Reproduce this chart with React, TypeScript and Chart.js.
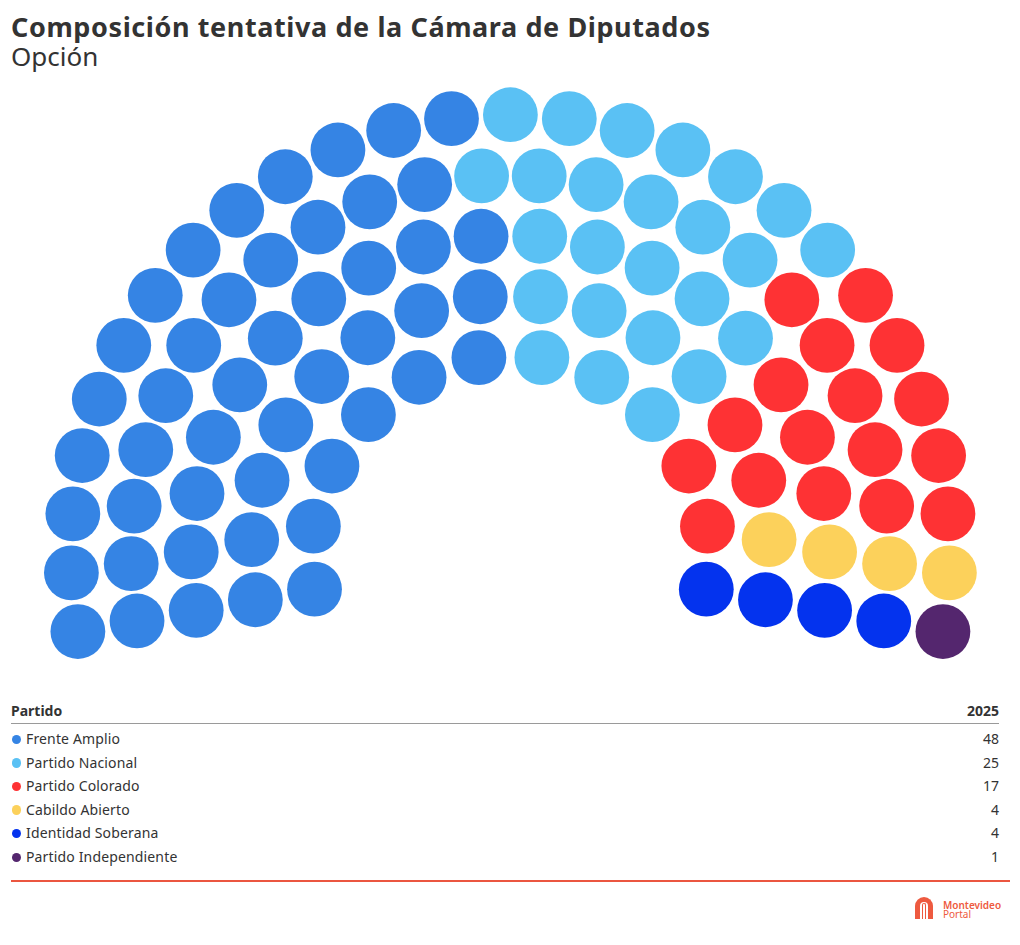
import React, { useEffect, useRef } from "react";
import { Chart, registerables } from "chart.js";

Chart.register(...registerables);

const titleText = "Composición tentativa de la Cámara de Diputados";
const subtitleText = "Opción";
const tableHeader = ["Partido", "2025"];

const parties = [
  "Frente Amplio",
  "Partido Nacional",
  "Partido Colorado",
  "Cabildo Abierto",
  "Identidad Soberana",
  "Partido Independiente",
];
const seats2025 = [48, 25, 17, 4, 4, 1];
const partyColors = ["#3584e4", "#5ac1f4", "#fe3234", "#fcd15b", "#0433ee", "#54266e"];
const rowSeatCounts = [12, 16, 20, 24, 27];

// layout geometry (page pixels)
const CANVAS_TOP = 80;
const CANVAS_H = 600;
const CX = 510.4;
const CY = 554.1;
const INNER_R = 199;
const ROW_GAP = 60.1;
const OVERSHOOT = 10.15; // degrees below horizontal on each side
const SEAT_R = 27.4;

type Seat = { x: number; y: number; angle: number; r: number };

function buildSeats(): Seat[][] {
  const seats: Seat[] = [];
  const start = 180 + OVERSHOOT;
  const span = 180 + 2 * OVERSHOOT;
  rowSeatCounts.forEach((n, row) => {
    const r = INNER_R + row * ROW_GAP;
    for (let i = 0; i < n; i++) {
      const a = Math.round((start - (i * span) / (n - 1)) * 1e6) / 1e6;
      const rad = (a * Math.PI) / 180;
      seats.push({
        x: CX + r * Math.cos(rad),
        y: -(CY - r * Math.sin(rad)),
        angle: a,
        r,
      });
    }
  });
  seats.sort((p, q) => (q.angle - p.angle) || (p.r - q.r));
  const groups: Seat[][] = [];
  let k = 0;
  seats2025.forEach((count) => {
    groups.push(seats.slice(k, k + count));
    k += count;
  });
  return groups;
}

function Hemicycle() {
  const ref = useRef<HTMLCanvasElement | null>(null);
  useEffect(() => {
    if (!ref.current) return;
    const groups = buildSeats();
    const chart = new Chart(ref.current, {
      type: "scatter",
      data: {
        datasets: parties.map((p, i) => ({
          label: p,
          data: groups[i].map((s) => ({ x: s.x, y: s.y })),
          backgroundColor: partyColors[i],
          borderWidth: 0,
          pointRadius: SEAT_R,
          pointHoverRadius: SEAT_R,
          clip: false as any,
        })),
      },
      options: {
        animation: false,
        responsive: false,
        maintainAspectRatio: false,
        layout: { padding: 0, autoPadding: false },
        plugins: { legend: { display: false }, tooltip: { enabled: false } },
        scales: {
          x: { type: "linear", display: false, min: 0, max: 1020 },
          y: { type: "linear", display: false, min: -(CANVAS_TOP + CANVAS_H), max: -CANVAS_TOP },
        },
      },
    });
    return () => chart.destroy();
  }, []);
  return (
    <canvas
      ref={ref}
      width={1020}
      height={CANVAS_H}
      style={{ position: "absolute", left: 0, top: CANVAS_TOP, width: 1020, height: CANVAS_H }}
    />
  );
}

const FONT = "'Noto Sans', Roboto, sans-serif";
const TEXT = "#333333";

export default function App() {
  const rowTop = 730;
  const rowStep = 23.6;
  return (
    <div
      style={{
        position: "absolute",
        left: 0,
        top: 0,
        width: 1020,
        height: 945,
        background: "#ffffff",
        fontFamily: FONT,
        color: TEXT,
        overflow: "hidden",
      }}
    >
      <div
        style={{
          position: "absolute",
          left: 11,
          top: 11.5,
          fontSize: 27,
          fontWeight: 700,
          lineHeight: "30px",
          letterSpacing: 0.6,
          whiteSpace: "nowrap",
        }}
      >
        {titleText}
      </div>
      <div
        style={{
          position: "absolute",
          left: 11,
          top: 41,
          fontSize: 26,
          fontWeight: 400,
          lineHeight: "30px",
          whiteSpace: "nowrap",
        }}
      >
        {subtitleText}
      </div>
      <Hemicycle />
      <div
        style={{
          position: "absolute",
          left: 11,
          top: 701,
          fontSize: 14,
          fontWeight: 700,
          lineHeight: "20px",
        }}
      >
        {tableHeader[0]}
      </div>
      <div
        style={{
          position: "absolute",
          right: 21,
          top: 701,
          fontSize: 14,
          fontWeight: 700,
          lineHeight: "20px",
        }}
      >
        {tableHeader[1]}
      </div>
      <div style={{ position: "absolute", left: 11, top: 722.5, width: 988, height: 1, background: "#9a9a9a" }} />
      {parties.map((p, i) => (
        <React.Fragment key={p}>
          <div
            style={{
              position: "absolute",
              left: 11.5,
              top: rowTop + i * rowStep + 4.5,
              width: 9.5,
              height: 9.5,
              borderRadius: "50%",
              background: partyColors[i],
            }}
          />
          <div
            style={{
              position: "absolute",
              left: 26,
              top: rowTop + i * rowStep - 1,
              fontSize: 14,
              lineHeight: "20px",
              letterSpacing: 0.15,
              whiteSpace: "nowrap",
            }}
          >
            {p}
          </div>
          <div
            style={{
              position: "absolute",
              right: 21,
              top: rowTop + i * rowStep - 1,
              fontSize: 14,
              lineHeight: "20px",
            }}
          >
            {seats2025[i]}
          </div>
        </React.Fragment>
      ))}
      <div style={{ position: "absolute", left: 11, top: 879.5, width: 999, height: 2, background: "#eb5640" }} />
      <div style={{ position: "absolute", left: 915, top: 897, width: 18, height: 22 }}>
        <div
          style={{
            position: "absolute",
            left: 0,
            top: 0,
            width: 18,
            height: 22,
            boxSizing: "border-box",
            border: "5px solid #ee5a40",
            borderBottom: "none",
            borderRadius: "9px 9px 0 0",
          }}
        />
        <div
          style={{
            position: "absolute",
            left: 7,
            top: 6,
            width: 4,
            height: 16,
            boxSizing: "border-box",
            border: "1.5px solid #ee5a40",
            borderBottom: "none",
            borderRadius: "2px 2px 0 0",
          }}
        />
      </div>
      <div
        style={{
          position: "absolute",
          left: 943,
          top: 901,
          fontSize: 10,
          lineHeight: "9px",
          color: "#ee5a40",
          fontWeight: 600,
          whiteSpace: "nowrap",
        }}
      >
        Montevideo
      </div>
      <div
        style={{
          position: "absolute",
          left: 943,
          top: 910,
          fontSize: 10,
          lineHeight: "9px",
          color: "#ee5a40",
          fontWeight: 400,
          whiteSpace: "nowrap",
        }}
      >
        Portal
      </div>
    </div>
  );
}
